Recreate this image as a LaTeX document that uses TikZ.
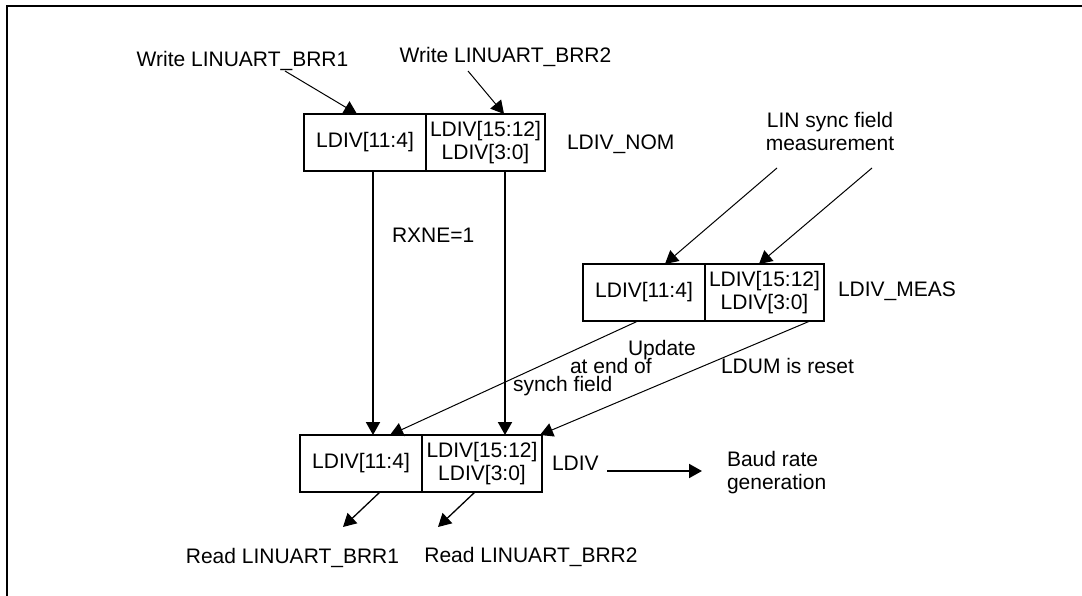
\documentclass[tikz,border=0pt]{standalone}
\usepackage{fontspec}
\setmainfont{Liberation Sans}
\usetikzlibrary{arrows.meta,calc}
\begin{document}
\begin{tikzpicture}[x=1pt,y=-1pt,
  cell/.style={draw, line width=2pt, minimum height=57pt, inner sep=0pt, outer sep=0pt, align=center, font=\fontsize{21}{23}\selectfont},
  lbl/.style={inner sep=0pt, outer sep=0pt, font=\fontsize{21}{23}\selectfont},
  tipend/.style={-{Triangle[length=13pt,width=14pt]}},
  thinarr/.style={tipend, line width=1pt},
  thickarr/.style={tipend, line width=2pt},
]
\useasboundingbox (0,0) rectangle (1082,596);
\draw[line width=2pt] (1082,6) -- (7,6) -- (7,596);

% LDIV_NOM
\node[cell, minimum width=122pt] (nomL) at (365,142.5) {LDIV[11:4]};
\node[cell, minimum width=119pt] (nomR) at (485.5,142.5) {LDIV[15:12]\\LDIV[3:0]};
\node[lbl, anchor=base west] (nomlab) at (567,150) {LDIV\_NOM};

% LDIV_MEAS
\node[cell, minimum width=122pt] (measL) at (644,292.5) {LDIV[11:4]};
\node[cell, minimum width=119pt] (measR) at (764.5,292.5) {LDIV[15:12]\\LDIV[3:0]};
\node[lbl, anchor=base west] (measlab) at (838,297) {LDIV\_MEAS};

% LDIV
\node[cell, minimum width=122pt] (botL) at (361,463.5) {LDIV[11:4]};
\node[cell, minimum width=120pt] (botR) at (482,463.5) {LDIV[15:12]\\LDIV[3:0]};
\node[lbl, anchor=base west] (ldiv) at (552,470) {LDIV};

% labels
\node[lbl, anchor=base] (wbrr1) at (242.5,67) {Write LINUART\_BRR1};
\node[lbl, anchor=base] (wbrr2) at (505.5,63) {Write LINUART\_BRR2};
\node[lbl, align=center] (lin) at (830,131.5) {LIN sync field\\measurement};
\node[lbl, anchor=base west] (rxne) at (392,243) {RXNE=1};
\node[lbl, anchor=base west] (upd1) at (628,355) {Update};
\node[lbl, anchor=base west] (upd2) at (570,373) {at end of};
\node[lbl, anchor=base west] (upd3) at (513,391) {synch field};
\node[lbl, anchor=base west] (ldum) at (721,373) {LDUM is reset};
\node[lbl, align=left, anchor=west] (baud) at (727,473) {Baud rate\\generation};
\node[lbl, anchor=base] (rbrr1) at (292.5,563) {Read LINUART\_BRR1};
\node[lbl, anchor=base] (rbrr2) at (531,562) {Read LINUART\_BRR2};

% free ends
\coordinate (w1s) at (285,71);
\coordinate (w2s) at (468,71);
\coordinate (l1s) at (777,168);
\coordinate (l2s) at (872,168);
\coordinate (bs) at (607,471);
\coordinate (be) at (702,471);
\coordinate (r1e) at (343,527);
\coordinate (r2e) at (438,527);

% connectors
\draw[thinarr] (w1s) -- ($(nomL.north)+(-8,0)$);
\draw[thinarr] (w2s) -- ($(nomR.north)+(18.5,0)$);
\draw[thinarr] (l1s) -- ($(measL.north)+(21,0)$);
\draw[thinarr] (l2s) -- ($(measR.north)+(-5.5,0)$);
\draw[thickarr] ($(nomL.south)+(8,0)$) -- ($(botL.north)+(12,0)$);
\draw[thickarr] ($(nomR.south)+(19.5,0)$) -- ($(botR.north)+(23,0)$);
\draw[thinarr] ($(measL.south)+(-6,0)$) -- ($(botL.north)+(29,0)$);
\draw[thinarr] ($(measR.south)+(45.5,0)$) -- ($(botR.north)+(58,0)$);
\draw[thickarr] (bs) -- (be);
\draw[tipend, line width=1.3pt] ($(botL.south)+(19,0)$) -- (r1e);
\draw[tipend, line width=1.3pt] ($(botR.south)+(-7,0)$) -- (r2e);
\end{tikzpicture}
\end{document}
